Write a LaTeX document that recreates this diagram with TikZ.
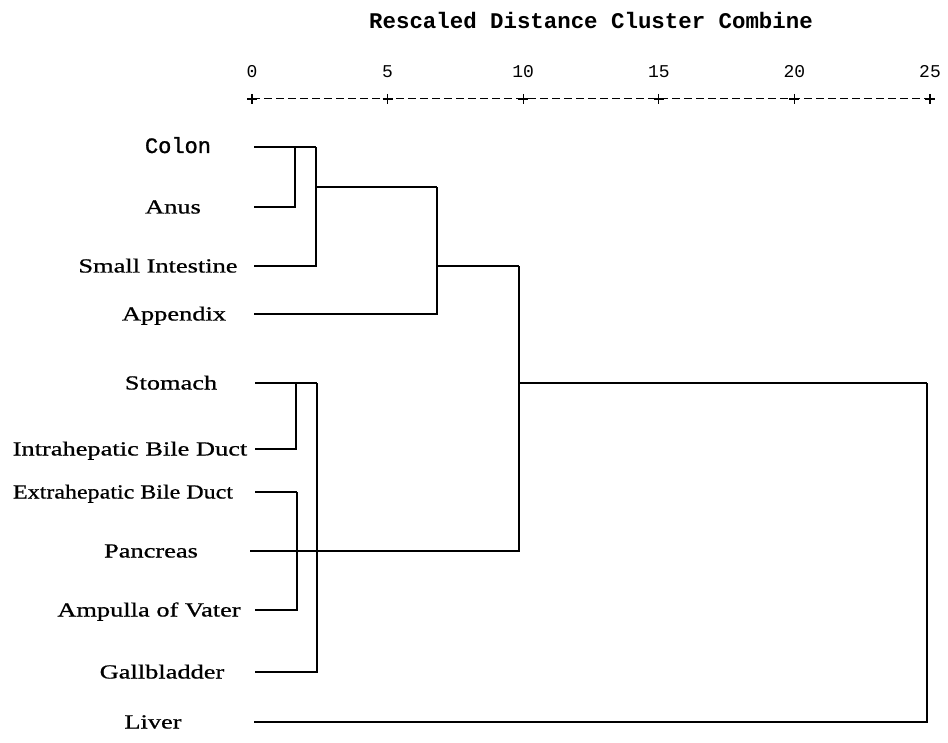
\documentclass[tikz,border=0pt]{standalone}
\usepackage{fontspec}
\setmainfont{Liberation Serif}
\newfontfamily\leaffont[FakeStretch=1.32, FakeBold=0.8]{Liberation Serif}
\newfontfamily\leafnarrow[FakeStretch=1.2, FakeBold=0.8]{Liberation Serif}
\newfontfamily\scalefont{Liberation Mono}
\newfontfamily\colonfont[FakeBold=1.2]{Liberation Mono}
\usetikzlibrary{calc}

\tikzset{
	leaf/.style={font={\leaffont\fontsize{20}{24}\selectfont}, inner sep=0pt, anchor=base},
	monoleaf/.style={font={\colonfont\fontsize{22}{26}\selectfont}, inner sep=0pt, anchor=base},
	titletext/.style={font={\scalefont\bfseries\fontsize{22.4}{26}\selectfont}, inner sep=0pt, anchor=base},
	ticktext/.style={font={\scalefont\fontsize{18}{22}\selectfont}, inner sep=0pt, anchor=base},
	axisline/.style={line width=1pt, dash pattern=on 8pt off 4pt},
	plusmark/.style={line width=1.2pt},
	link/.style={line width=1.5pt}
}

\begin{document}
\begin{tikzpicture}[x=1pt, y=-1pt]
			%%%%% START %%%%%
			\useasboundingbox (0,0) rectangle (948,743);
			
			% scale on top
			\node[titletext] (title) at (591,29) {Rescaled Distance Cluster Combine};
			\foreach \v in {0,5,...,25} {
				\coordinate (t\v) at ({252+27.12*\v},99);
				\node[ticktext] (n\v) at ({252+27.12*\v},78) {\v};
			}
			\draw[axisline] (t0) -- (t25);
			\foreach \v in {0,5,...,25}
				\draw[plusmark] ($(t\v)+(-5,0)$) -- ($(t\v)+(5,0)$) ($(t\v)+(0,-5)$) -- ($(t\v)+(0,5)$);
			
			% labels
			\node[monoleaf] (colon) at (178,153) {Colon};
			\node[leaf] (anus) at (173,213.5) {Anus};
			\node[leaf] (small) at (158,272.5) {Small Intestine};
			\node[leaf] (appendix) at (174,320.5) {Appendix};
			\node[leaf] (stomach) at (171,389.5) {Stomach};
			\node[leaf] (intra) at (130,455.5) {Intrahepatic Bile Duct};
			\node[leaf, font={\leafnarrow\fontsize{20}{24}\selectfont}] (extra) at (123,498.5) {Extrahepatic Bile Duct};
			\node[leaf] (pancreas) at (151,557.5) {Pancreas};
			\node[leaf] (ampulla) at (149,616.5) {Ampulla of Vater};
			\node[leaf] (gall) at (162,678.5) {Gallbladder};
			\node[leaf] (liver) at (153,728.5) {Liver};
			
			% line ends at the labels
			\coordinate (lColon) at (254,147);
			\coordinate (lAnus) at (254,207);
			\coordinate (lSmall) at (254,266);
			\coordinate (lAppendix) at (254,314);
			\coordinate (lStomach) at (255,383);
			\coordinate (lIntra) at (255,449);
			\coordinate (lExtra) at (255,492);
			\coordinate (lPancreas) at (250,551);
			\coordinate (lAmpulla) at (255,610);
			\coordinate (lGall) at (255,672);
			\coordinate (lLiver) at (254,722);
			
			% joins
			\coordinate (jA) at (295,147);
			\coordinate (jB) at (316,187);
			\coordinate (jC) at (437,266);
			\coordinate (jD) at (519,383);
			\coordinate (jE) at (927,383);
			\coordinate (jF) at (296,383);
			\coordinate (jG) at (297,492);
			\coordinate (jH) at (317,383);
			
			\draw[link] (lColon) -- (lColon -| jB);
			\draw[link] (lAnus) -| (jA);
			\draw[link] (lSmall) -| (lColon -| jB);
			\draw[link] (jB) -- (jB -| jC);
			\draw[link] (lAppendix) -| (jB -| jC);
			\draw[link] (jC) -- (jC -| jD);
			\draw[link] (lPancreas) -| (jC -| jD);
			\draw[link] (jD) -- (jE);
			\draw[link] (lLiver) -| (jE);
			
			\draw[link] (lStomach) -- (jH);
			\draw[link] (lIntra) -| (jF);
			\draw[link] (lExtra) -- (jG);
			\draw[link] (lAmpulla) -| (jG);
			\draw[link] (lGall) -| (jH);
			%%%%% END %%%%%
\end{tikzpicture}
\end{document}
